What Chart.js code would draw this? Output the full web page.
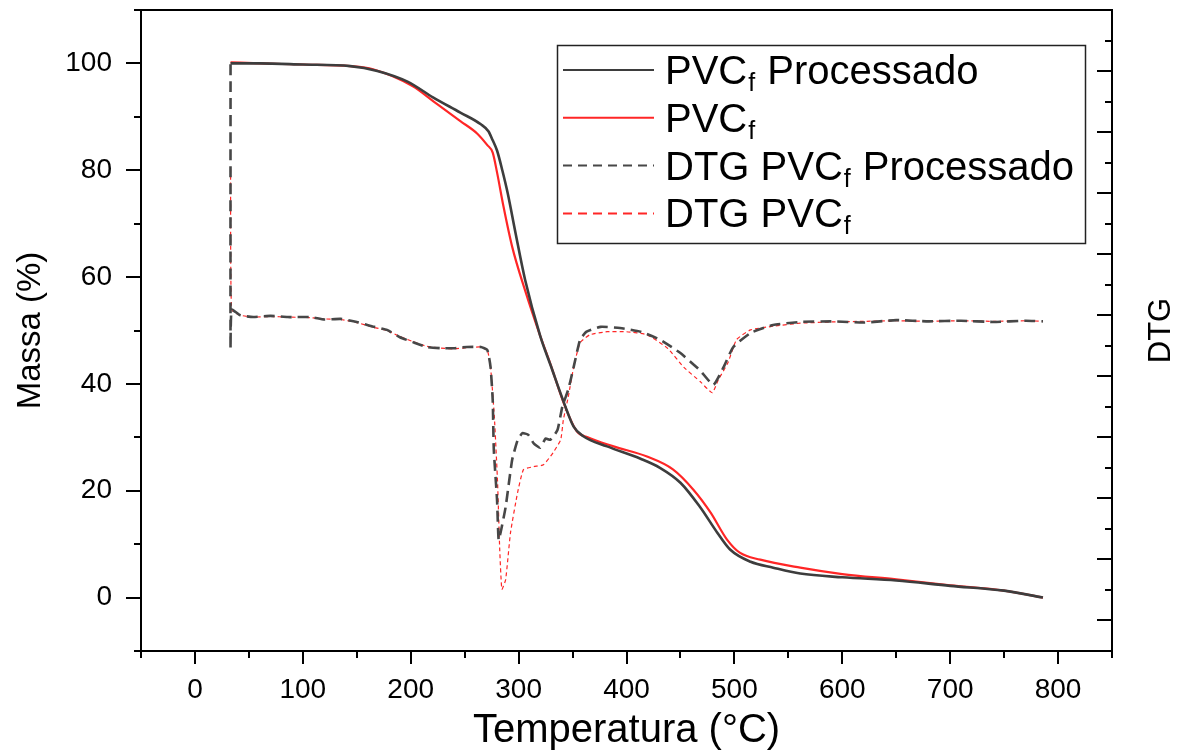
<!DOCTYPE html>
<html>
<head>
<meta charset="utf-8">
<script src="https://cdn.jsdelivr.net/npm/chart.js@4.4.1/dist/chart.umd.min.js"></script>
<style>
  html, body { margin: 0; padding: 0; background: #fff; }
  #wrap { width: 1184px; height: 751px; }
</style>
</head>
<body>
<div id="wrap"><canvas id="tga" width="1184" height="751"></canvas></div>
<script>
// Eixos
const tempTicks = [0, 100, 200, 300, 400, 500, 600, 700, 800];
const tempMinorTicks = [-50, 50, 150, 250, 350, 450, 550, 650, 750, 850];
const massTicks = [0, 20, 40, 60, 80, 100];
const massMinorTicks = [-10, 10, 30, 50, 70, 90, 110];
const dtgTicks = [0, 1, 2, 3, 4, 5, 6, 7, 8, 9, 10];
const dtgMinorTicks = [-0.5, 0.5, 1.5, 2.5, 3.5, 4.5, 5.5, 6.5, 7.5, 8.5, 9.5];

// Legendas (_f = subscrito)
const seriesLabels = ['PVC_f Processado', 'PVC_f', 'DTG PVC_f Processado', 'DTG PVC_f'];

// TGA - PVCf Processado
const tgaProcTemp = [33, 60, 100, 144, 169, 197, 221, 246, 265, 272, 276, 280, 285, 290, 297, 306, 320, 330, 342, 351, 360, 382, 413, 431, 450, 468, 484, 496, 515, 536, 561, 600, 650, 700, 750, 786];
const tgaProcMass = [100.0, 100.0, 99.8, 99.5, 98.6, 96.6, 93.6, 90.8, 88.6, 87.3, 85.6, 83.7, 79.9, 75.6, 68.4, 59.5, 49.0, 43.3, 36.5, 32.0, 30.2, 28.3, 26.0, 24.3, 21.5, 17.0, 12.2, 9.0, 6.7, 5.6, 4.5, 3.8, 3.2, 2.2, 1.3, 0.0];

// TGA - PVCf
const tgaTemp = [33, 60, 100, 144, 165, 202, 221, 246, 262, 271, 276, 280, 286, 294, 306, 320, 329, 343, 354, 364, 388, 419, 443, 462, 478, 493, 505, 524, 561, 600, 650, 700, 750, 786];
const tgaMass = [100.2, 100.0, 99.8, 99.5, 98.9, 95.7, 92.9, 89.2, 86.8, 84.7, 83.3, 79.6, 73.2, 65.7, 57.5, 49.0, 44.0, 35.8, 31.1, 30.0, 28.3, 26.4, 24.0, 20.2, 15.9, 10.9, 8.4, 7.1, 5.6, 4.4, 3.4, 2.3, 1.3, 0.0];

// DTG - PVCf Processado
const dtgProcTemp = [33, 33, 34, 42, 54, 70, 86, 107, 120, 135, 150, 166, 178, 190, 202, 215, 228, 240, 252, 265,
  271, 274, 276, 277, 280, 281.5, 284, 288, 294, 299, 303.5, 309, 314, 320, 325, 329.5, 336, 340.5, 346, 351, 357, 363, 376, 394, 413, 431, 450, 468, 480.5, 490, 499, 515, 536, 561,
  590, 620, 650, 680, 710, 740, 770, 786];
const dtgProc = [9.11, 4.46, 5.09, 5.00, 4.97, 4.99, 4.97, 4.97, 4.93, 4.94, 4.89, 4.81, 4.76, 4.64, 4.56, 4.48, 4.46, 4.46, 4.48, 4.48,
  4.43, 4.15, 3.61, 2.80, 1.98, 1.32, 1.50, 1.86, 2.63, 2.95, 3.07, 3.04, 2.90, 2.83, 2.98, 2.96, 3.12, 3.50, 3.78, 4.15, 4.60, 4.73, 4.81, 4.79, 4.73, 4.60, 4.38, 4.10, 3.86, 4.15, 4.48, 4.71, 4.84, 4.89,
  4.90, 4.88, 4.92, 4.90, 4.91, 4.89, 4.91, 4.90];

// DTG - PVCf
const dtgTemp = [33, 34, 42, 54, 70, 86, 107, 120, 135, 150, 166, 178, 190, 202, 215, 228, 240, 252, 265,
  271, 274, 277.5, 280.5, 282.5, 284.5, 288, 292.5, 299, 304.5, 314, 323, 332, 339, 341.5, 346, 351, 357, 366, 382, 400, 419, 438, 453, 468.5, 479.5, 485, 494, 502, 515, 536, 561,
  590, 620, 650, 680, 710, 740, 770, 786];
const dtgVal = [7.40, 5.09, 5.00, 4.97, 4.98, 4.97, 4.96, 4.94, 4.93, 4.88, 4.80, 4.75, 4.65, 4.57, 4.49, 4.46, 4.45, 4.47, 4.48,
  4.43, 4.15, 3.34, 2.26, 1.16, 0.51, 0.67, 1.44, 2.09, 2.47, 2.52, 2.55, 2.75, 2.96, 3.29, 3.66, 4.15, 4.55, 4.68, 4.73, 4.73, 4.68, 4.46, 4.15, 3.91, 3.73, 3.94, 4.22, 4.60, 4.76, 4.82, 4.87,
  4.89, 4.90, 4.91, 4.90, 4.91, 4.90, 4.91, 4.90];

const pairs = (xs, ys) => xs.map((x, i) => ({ x: x, y: ys[i] }));

const FONT = '"Liberation Sans", Arial, sans-serif';
const GRAY = '#3d3d3d';
const RED = '#ff2626';

// sem folgas extras de rotulo: area do grafico fixa
const noPad = s => { s.paddingTop = 0; s.paddingBottom = 0; s.paddingLeft = 0; s.paddingRight = 0; };

// molduras e marcas dos eixos (maiores e menores)
const frameTicks = {
    id: 'frameTicks',
    afterDatasetsDraw(chart) {
        const { ctx, chartArea: a, scales } = chart;
        ctx.save();
        ctx.strokeStyle = '#000';
        ctx.lineWidth = 2;
        ctx.strokeRect(a.left, a.top, a.right - a.left, a.bottom - a.top);
        ctx.beginPath();
        const major = 13, minor = 7;
        tempTicks.forEach(v => { const p = Math.round(scales.x.getPixelForValue(v)); ctx.moveTo(p, a.bottom); ctx.lineTo(p, a.bottom + major); });
        tempMinorTicks.forEach(v => { const p = Math.round(scales.x.getPixelForValue(v)); ctx.moveTo(p, a.bottom); ctx.lineTo(p, a.bottom + minor); });
        massTicks.forEach(v => { const p = Math.round(scales.y.getPixelForValue(v)); ctx.moveTo(a.left, p); ctx.lineTo(a.left - 15, p); });
        massMinorTicks.forEach(v => { const p = Math.round(scales.y.getPixelForValue(v)); ctx.moveTo(a.left, p); ctx.lineTo(a.left - minor, p); });
        dtgTicks.forEach(v => { const p = Math.round(scales.y2.getPixelForValue(v)); ctx.moveTo(a.right, p); ctx.lineTo(a.right - 15, p); });
        dtgMinorTicks.forEach(v => { const p = Math.round(scales.y2.getPixelForValue(v)); ctx.moveTo(a.right, p); ctx.lineTo(a.right - minor, p); });
        ctx.stroke();

        // titulo do eixo direito (lido de baixo para cima)
        ctx.fillStyle = '#000';
        ctx.font = '31px ' + FONT;
        ctx.textAlign = 'center';
        ctx.textBaseline = 'middle';
        ctx.translate(1161, (a.top + a.bottom) / 2);
        ctx.rotate(-Math.PI / 2);
        ctx.fillText('DTG', 0, 0);
        ctx.restore();
    }
};

// legenda com subscrito
const subLegend = {
    id: 'subLegend',
    afterDraw(chart) {
        const { ctx } = chart;
        const box = { x: 557.5, y: 45.5, w: 528, h: 198 };
        const rowH = 47.8, firstRow = 70;
        ctx.save();
        ctx.fillStyle = '#fff';
        ctx.fillRect(box.x, box.y, box.w, box.h);
        ctx.strokeStyle = '#222';
        ctx.lineWidth = 1.5;
        ctx.strokeRect(box.x, box.y, box.w, box.h);
        chart.data.datasets.forEach((ds, i) => {
            const y = firstRow + i * rowH;
            ctx.beginPath();
            ctx.strokeStyle = ds.borderColor;
            ctx.lineWidth = 2;
            ctx.setLineDash(ds.borderDash && ds.borderDash.length ? [9, 6] : []);
            ctx.moveTo(563, y);
            ctx.lineTo(654, y);
            ctx.stroke();
            ctx.setLineDash([]);
            ctx.fillStyle = '#000';
            ctx.textBaseline = 'alphabetic';
            ctx.textAlign = 'left';
            let x = 665;
            const base = y + 14;
            ds.label.split(/(_\w)/).forEach(part => {
                if (!part) return;
                if (part[0] === '_') {
                    ctx.font = '25px ' + FONT;
                    ctx.fillText(part.slice(1), x + 1, base + 7);
                    x += ctx.measureText(part.slice(1)).width + 2;
                } else {
                    ctx.font = '40px ' + FONT;
                    ctx.fillText(part, x, base);
                    x += ctx.measureText(part).width;
                }
            });
        });
        ctx.restore();
    }
};

new Chart(document.getElementById('tga'), {
    type: 'line',
    data: {
        datasets: [
            { label: seriesLabels[0], data: pairs(tgaProcTemp, tgaProcMass), yAxisID: 'y',
              borderColor: GRAY, borderWidth: 2.6, pointRadius: 0, cubicInterpolationMode: 'monotone' },
            { label: seriesLabels[1], data: pairs(tgaTemp, tgaMass), yAxisID: 'y',
              borderColor: RED, borderWidth: 2.2, pointRadius: 0, cubicInterpolationMode: 'monotone' },
            { label: seriesLabels[2], data: pairs(dtgProcTemp, dtgProc), yAxisID: 'y2',
              borderColor: '#474747', borderWidth: 2.6, borderDash: [11, 6], pointRadius: 0, tension: 0.15 },
            { label: seriesLabels[3], data: pairs(dtgTemp, dtgVal), yAxisID: 'y2',
              borderColor: RED, borderWidth: 1.2, borderDash: [4, 3], pointRadius: 0, tension: 0.15 }
        ]
    },
    options: {
        responsive: false,
        animation: false,
        devicePixelRatio: 1,
        layout: { padding: { top: 10, left: 0, right: 0, bottom: 0 } },
        plugins: { legend: { display: false }, tooltip: { enabled: false } },
        scales: {
            x: {
                type: 'linear', min: -50, max: 850,
                afterBuildTicks: s => { s.ticks = tempTicks.map(v => ({ value: v })); },
                afterFit: s => { s.height = 100; noPad(s); },
                grid: { display: false, drawTicks: false },
                border: { display: false },
                ticks: { color: '#000', padding: 22, maxRotation: 0, font: { family: FONT, size: 28 } },
                title: { display: true, text: 'Temperatura (°C)', color: '#000', padding: 0,
                         font: { family: FONT, size: 40, lineHeight: 1 } }
            },
            y: {
                type: 'linear', position: 'left', min: -10, max: 110,
                afterBuildTicks: s => { s.ticks = massTicks.map(v => ({ value: v })); },
                afterFit: s => { s.width = 141; noPad(s); },
                grid: { display: false, drawTicks: false },
                border: { display: false },
                ticks: { color: '#000', padding: 29, font: { family: FONT, size: 28 } },
                title: { display: true, text: 'Massa (%)', color: '#000', padding: { top: 14, bottom: 0 },
                         font: { family: FONT, size: 33, lineHeight: 1 } }
            },
            y2: {
                type: 'linear', position: 'right', min: -0.5, max: 10,
                afterBuildTicks: s => { s.ticks = dtgTicks.map(v => ({ value: v })); },
                afterFit: s => { s.width = 72; noPad(s); },
                grid: { display: false, drawTicks: false },
                border: { display: false },
                ticks: { display: false }
            }
        }
    },
    plugins: [frameTicks, subLegend]
});
</script>
</body>
</html>
